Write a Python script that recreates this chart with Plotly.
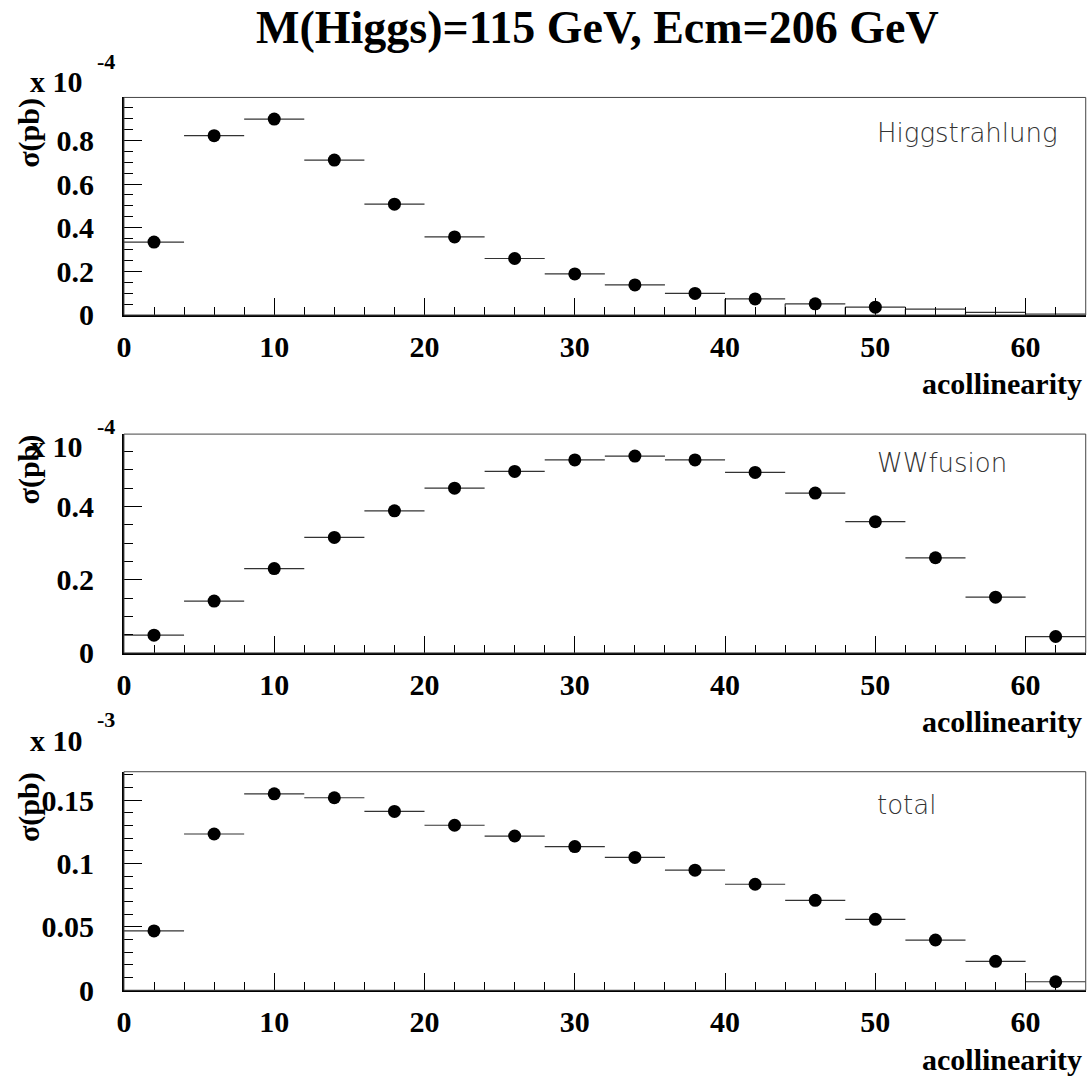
import plotly.graph_objects as go

# Acollinearity histogram: 16 bins of 4 degrees from 0 to 64, given by bin centre
acollinearity = [2, 6, 10, 14, 18, 22, 26, 30, 34, 38, 42, 46, 50, 54, 58, 62]
bin_half_width = 2

# Cross sections per bin (units: 1e-4 pb, 1e-4 pb, 1e-3 pb)
higgsstrahlung = [0.334, 0.822, 0.898, 0.710, 0.508, 0.358, 0.259, 0.188,
                  0.138, 0.099, 0.0735, 0.051, 0.036, 0.027, 0.012, 0.0045]
wwfusion = [0.0484, 0.1417, 0.2305, 0.3157, 0.3883, 0.4502, 0.4959, 0.5273,
            0.538, 0.5273, 0.4932, 0.4367, 0.3587, 0.260, 0.1524, 0.0448]
total = [0.0468, 0.1232, 0.1549, 0.1518, 0.1410, 0.1301, 0.1216, 0.1133,
         0.1047, 0.0947, 0.0836, 0.0709, 0.0559, 0.0396, 0.0228, 0.0067]

# Only the first bins of the Higgsstrahlung histogram carry a marker
higgs_marked_bins = 13
# From this bin edge on, the Higgsstrahlung bins are drawn with their left edge
higgs_edge_start = 40

panel_labels = ["Higgstrahlung", "WWfusion", "total"]
panel_exponents = ["-4", "-4", "-3"]
y_ranges = [[0, 0.997], [0, 0.598], [0, 0.1723]]
y_dticks = [0.2, 0.2, 0.05]
y_minor_dticks = [0.05, 0.05, 0.01]
x_range = [0, 64]

W, H = 1090, 1086
SERIF = "Liberation Serif"


def px(x):
    return x / W


def py(y):
    return 1 - y / H


# frame pixel geometry of the three pads
x_left, x_right = 117.7, 1085.7
pads = [(99, 320), (441, 663.3), (784, 1006)]

fig = go.Figure()
series = [higgsstrahlung, wwfusion, total]

for i, values in enumerate(series):
    xa = "x" if i == 0 else f"x{i + 1}"
    ya = "y" if i == 0 else f"y{i + 1}"
    if i == 0:
        sizes = [13 if k < higgs_marked_bins else 0 for k in range(len(values))]
    else:
        sizes = [13] * len(values)
    fig.add_trace(go.Scatter(
        x=acollinearity, y=values, mode="markers",
        marker=dict(color="black", size=sizes, opacity=1, line=dict(width=0)),
        error_x=dict(type="constant", value=bin_half_width, width=0,
                     thickness=1.2, color="#333"),
        xaxis=xa, yaxis=ya, showlegend=False, cliponaxis=False,
    ))

# left bin edges of the Higgsstrahlung tail
ex, ey = [], []
for c, v in zip(acollinearity, higgsstrahlung):
    if c - bin_half_width >= higgs_edge_start:
        ex += [c - bin_half_width, c - bin_half_width, None]
        ey += [v, 0, None]
fig.add_trace(go.Scatter(x=ex, y=ey, mode="lines",
                         line=dict(color="#333", width=1.2),
                         xaxis="x", yaxis="y", showlegend=False))

tick_font = dict(family=SERIF, size=30, color="black", weight="bold")
layout = dict(
    width=W, height=H, margin=dict(l=0, r=0, t=0, b=0),
    paper_bgcolor="white", plot_bgcolor="white", showlegend=False,
)
shapes = []
annotations = []
for i, (top, bot) in enumerate(pads):
    sx = "" if i == 0 else str(i + 1)
    layout["xaxis" + sx] = dict(
        domain=[px(x_left), px(x_right)], range=x_range, anchor="y" + sx,
        dtick=10, tick0=0, ticks="inside", ticklen=17, tickwidth=1,
        tickcolor="black", showline=True, linewidth=2, linecolor="black",
        showgrid=False, zeroline=False, tickfont=tick_font,
        ticklabelstandoff=4,
        minor=dict(dtick=2, ticks="inside", ticklen=8, tickwidth=1,
                   tickcolor="black", showgrid=False),
    )
    layout["yaxis" + sx] = dict(
        domain=[py(bot), py(top)], range=y_ranges[i], anchor="x" + sx,
        dtick=y_dticks[i], tick0=0, ticks="inside", ticklen=18, tickwidth=1,
        tickcolor="black", showline=True, linewidth=2, linecolor="black",
        showgrid=False, zeroline=False, tickfont=tick_font,
        ticklabelstandoff=22,
        minor=dict(dtick=y_minor_dticks[i], ticks="inside", ticklen=9,
                   tickwidth=1, tickcolor="black", showgrid=False),
    )
    # thin frame around the pad
    shapes.append(dict(type="rect", xref="paper", yref="paper",
                       x0=px(x_left), x1=px(x_right), y0=py(bot), y1=py(top),
                       line=dict(color="#444", width=1), layer="above"))
    # x axis title
    annotations.append(dict(text="acollinearity", xref="paper", yref="paper",
                            x=px(1084), y=py(bot + 70), xanchor="right",
                            yanchor="middle", showarrow=False,
                            font=dict(family=SERIF, size=30, color="black",
                                      weight="bold")))
    # y axis title
    annotations.append(dict(text="σ(pb)", xref="paper", yref="paper",
                            x=px(22), y=py(top + 36), textangle=-90,
                            xanchor="center", yanchor="middle",
                            showarrow=False,
                            font=dict(family=SERIF, size=30, color="black",
                                      weight="bold")))
    # pad label
    annotations.append(dict(text=panel_labels[i], xref="paper", yref="paper",
                            x=px(874), y=py(top + [36, 29, 34][i]),
                            xanchor="left", yanchor="middle", showarrow=False,
                            font=dict(family="DejaVu Sans", size=26,
                                      color="#333", weight=200)))

# axis scale factors
scale_y = [83, 454, 752]
for i, yc in enumerate(scale_y):
    annotations.append(dict(text="x 10", xref="paper", yref="paper",
                            x=px(50), y=py(yc), xanchor="center",
                            yanchor="middle", showarrow=False,
                            font=dict(family=SERIF, size=30, color="black",
                                      weight="bold")))
    annotations.append(dict(text=panel_exponents[i], xref="paper",
                            yref="paper", x=px(100), y=py(yc - 21),
                            xanchor="center", yanchor="middle",
                            showarrow=False,
                            font=dict(family=SERIF, size=22, color="black",
                                      weight="bold")))

annotations.append(dict(text="M(Higgs)=115 GeV, Ecm=206 GeV", xref="paper",
                        yref="paper", x=px(594), y=py(28), xanchor="center",
                        yanchor="middle", showarrow=False,
                        font=dict(family=SERIF, size=46, color="black",
                                  weight="bold")))

layout["shapes"] = shapes
layout["annotations"] = annotations
fig.update_layout(**layout)
fig.write_html("out.html")
